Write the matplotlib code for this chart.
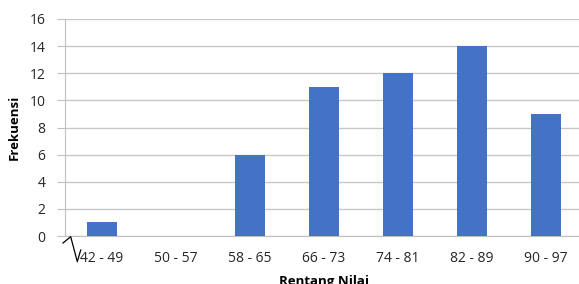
import matplotlib
matplotlib.use('Agg')
import numpy as np
import matplotlib.pyplot as plt
from matplotlib.lines import Line2D

categories = ['42 - 49', '50 - 57', '58 - 65', '66 - 73', '74 - 81', '82 - 89', '90 - 97']
frekuensi = [1, 0, 6, 11, 12, 14, 9]
y_ticks = [0, 2, 4, 6, 8, 10, 12, 14, 16]

plt.rcParams['font.family'] = ['Open Sans', 'DejaVu Sans']

W, H = 579, 284
fig = plt.figure(figsize=(W / 100., H / 100.), dpi=100)
ax = fig.add_axes([65. / W, 1 - 236. / H, 518. / W, 217. / H])

x = np.arange(len(categories))
ax.bar(x, frekuensi, width=0.4, color='#4472C4', zorder=3)

ax.set_xlim(-0.5, len(categories) - 0.5)
ax.set_ylim(0, 16)
ax.set_yticks(y_ticks)
ax.set_xticks(x)
ax.set_xticklabels(categories)
ax.grid(axis='y', color='#c8c8c8', linewidth=1, zorder=0)

for s in ['top', 'right']:
    ax.spines[s].set_visible(False)
ax.spines['left'].set_color('#bfbfbf')
ax.spines['bottom'].set_color('#bfbfbf')
ax.tick_params(axis='y', length=6, color='#bfbfbf', pad=8, labelsize=10, labelcolor='#262626')
ax.tick_params(axis='x', length=0, pad=11, labelsize=10, labelcolor='#262626')

ax.set_ylabel('Frekuensi', fontsize=9.5, fontweight='bold', labelpad=6)
ax.set_xlabel('Rentang Nilai', fontsize=9.5, fontweight='bold', labelpad=6)

# axis break mark
px = np.array([63, 70.7, 77.3, 80.7])
py = np.array([243, 236.7, 261.7, 250])
fig.add_artist(Line2D(px / W, 1 - py / H, color='black', linewidth=0.9))

fig.savefig('out.png', dpi=100)
